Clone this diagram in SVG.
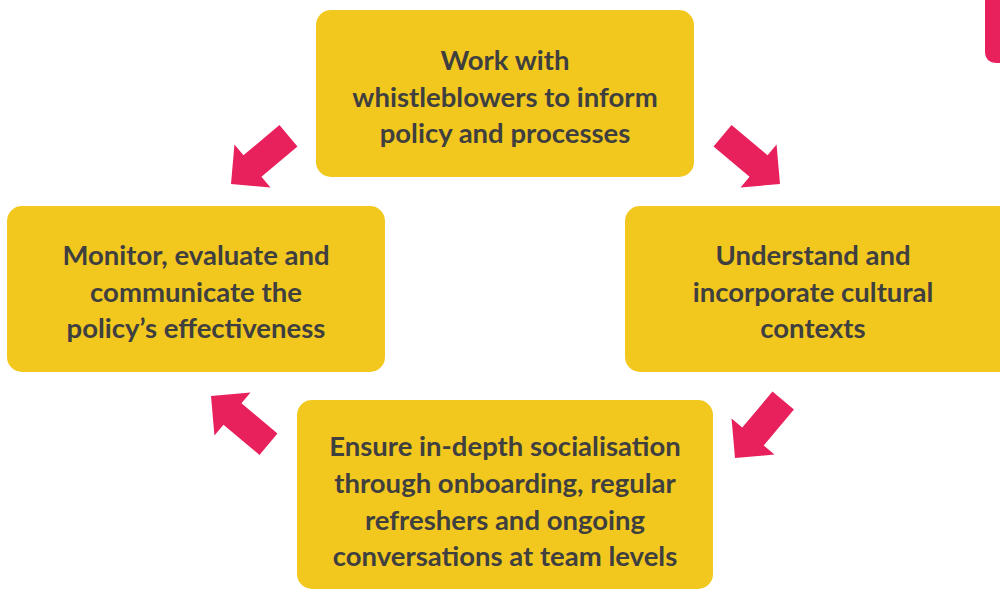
<svg xmlns="http://www.w3.org/2000/svg" width="1000" height="593" viewBox="0 0 1000 593">
  <defs>
    <style>
      .box { fill: #F2C81F; }
      .label { font-family: Lato, "Open Sans", "Liberation Sans", sans-serif; font-weight: 700; font-size: 27.5px; fill: #3F3F3F; text-anchor: middle; }
      .arrow { fill: #E8205B; }
    </style>
    <!-- block arrow pointing along +x, tip at origin -->
    <polygon id="blockArrow" points="0,0 -28,-28 -28,-14 -75,-14 -75,14 -28,14 -28,28"/>
  </defs>

  <rect width="1000" height="593" fill="#FFFFFF"/>

  <!-- corner tab -->
  <path class="arrow" d="M985,0 H1000 V63 H997 Q985,63 985,51 Z"/>

  <g id="node-whistleblowers">
    <rect class="box" x="316" y="10" width="378" height="167" rx="15"/>
    <text class="label" x="505" y="70">Work with</text>
    <text class="label" x="505" y="107">whistleblowers to inform</text>
    <text class="label" x="505" y="143">policy and processes</text>
  </g>

  <g id="node-cultural">
    <rect class="box" x="625" y="206" width="390" height="166" rx="15"/>
    <text class="label" x="813" y="265">Understand and</text>
    <text class="label" x="813" y="302">incorporate cultural</text>
    <text class="label" x="813" y="338">contexts</text>
  </g>

  <g id="node-socialisation">
    <rect class="box" x="297" y="400" width="416" height="189" rx="15"/>
    <text class="label" x="505" y="456">Ensure in-depth socialisation</text>
    <text class="label" x="505" y="493">through onboarding, regular</text>
    <text class="label" x="505" y="530">refreshers and ongoing</text>
    <text class="label" x="505" y="566">conversations at team levels</text>
  </g>

  <g id="node-monitor">
    <rect class="box" x="7" y="206" width="378" height="166" rx="15"/>
    <text class="label" x="196" y="265">Monitor, evaluate and</text>
    <text class="label" x="196" y="302">communicate the</text>
    <text class="label" x="196" y="338">policy’s effectiveness</text>
  </g>

  <g id="connectors" class="arrow">
    <use href="#blockArrow" transform="translate(780,184) rotate(40)"/>
    <use href="#blockArrow" transform="translate(735,458) rotate(130)"/>
    <use href="#blockArrow" transform="translate(211,396) rotate(220)"/>
    <use href="#blockArrow" transform="translate(231,184) rotate(140)"/>
  </g>
</svg>
